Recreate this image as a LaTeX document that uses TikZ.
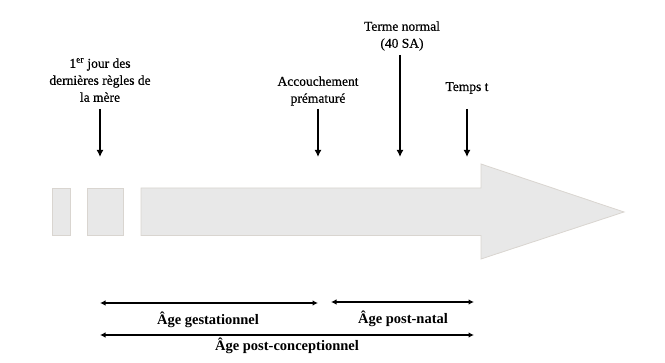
\documentclass[tikz,border=0pt]{standalone}
\usepackage{fontspec}
\setmainfont{Liberation Serif}
\newfontfamily\toplblfont[FakeBold=0.6]{Liberation Serif}
\usetikzlibrary{arrows.meta}
\definecolor{shapefill}{HTML}{E8E8E8}
\definecolor{shapeedge}{HTML}{D9D5D0}
\begin{document}
\begin{tikzpicture}[x=1pt,y=-1pt,
  block/.style={fill=shapefill,draw=shapeedge,line width=0.8pt},
  toplabel/.style={align=center,font=\toplblfont\fontsize{13.5}{17}\selectfont,inner sep=0pt},
  agelabel/.style={font=\bfseries\fontsize{14.5}{17}\selectfont,inner sep=0pt},
  downarrow/.style={-{Latex[length=7pt,width=7pt]},line width=2pt},
  spanarrow/.style={{Latex[length=5.5pt,width=5.5pt]}-{Latex[length=5.5pt,width=5.5pt]},line width=1.5pt}]
\useasboundingbox (0,0) rectangle (665,363);
% timeline shapes
\path[block] (52,188) rectangle (70.5,235.5);
\path[block] (87,188) rectangle (123,235.5);
\path[block] (141,188) -- (481,188) -- (481,164) -- (624,212) -- (481,259) -- (481,235.5) -- (141,235.5) -- cycle;
% labels on top
\node[toplabel] (lmp) at (100,80) {1\textsuperscript{er} jour des\\dernières règles de\\la mère};
\node[toplabel] (prem) at (318,91) {Accouchement\\prématuré};
\node[toplabel] (term) at (402,36) {Terme normal\\(40 SA)};
\node[toplabel] (tt) at (467,88) {Temps t};
% coordinates for arrows
\coordinate (lmpA) at (100,109);
\coordinate (lmpB) at (100,157);
\coordinate (premA) at (318,109);
\coordinate (premB) at (318,157);
\coordinate (termA) at (400,55);
\coordinate (termB) at (400,157);
\coordinate (ttA) at (467,109);
\coordinate (ttB) at (467,157);
\draw[downarrow] (lmpA) -- (lmpB);
\draw[downarrow] (premA) -- (premB);
\draw[downarrow] (termA) -- (termB);
\draw[downarrow] (ttA) -- (ttB);
% age spans
\coordinate (g1) at (100,303);
\coordinate (g2) at (318,303);
\coordinate (n1) at (331,302);
\coordinate (n2) at (474,302);
\coordinate (c1) at (100,335);
\coordinate (c2) at (474,335);
\draw[spanarrow] (g1) -- (g2);
\draw[spanarrow] (n1) -- (n2);
\draw[spanarrow] (c1) -- (c2);
\node[agelabel] (ag) at (208,320) {Âge gestationnel};
\node[agelabel] (an) at (403,319) {Âge post-natal};
\node[agelabel] (ac) at (287,346) {Âge post-conceptionnel};
\end{tikzpicture}
\end{document}
